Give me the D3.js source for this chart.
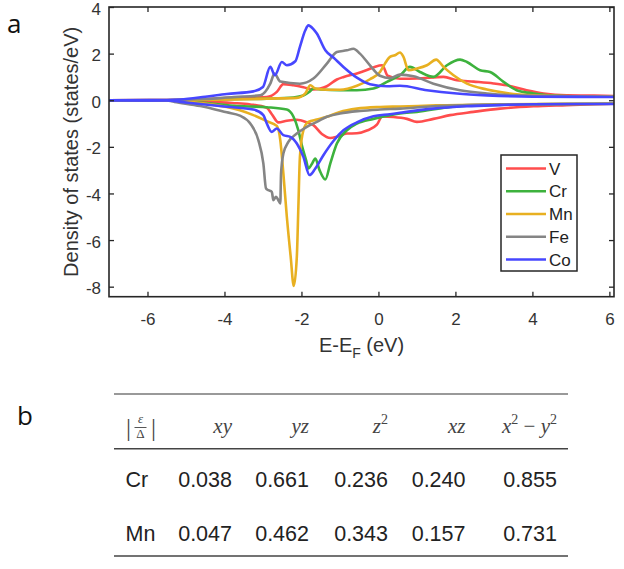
<!DOCTYPE html>
<html>
<head>
<meta charset="utf-8">
<script src="https://cdn.jsdelivr.net/npm/d3@7"></script>
<style>
  body { margin: 0; background: #fff; }
  svg { display: block; font-family: "Liberation Sans", Arial, sans-serif; }
  .tick text { fill: #333; }
</style>
</head>
<body>
<svg id="fig" width="624" height="569"></svg>
<script>
// ---- data ----
const species = ["V", "Cr", "Mn", "Fe", "Co"];
const colors = ["#ff4d4d", "#3db23d", "#e8b021", "#858585", "#4747ff"];

// [E - E_F (eV), DOS (states/eV)]
const vUp = [[-7,0],[-5.5,0.01],[-4.5,0.05],[-3.8,0.1],[-3.2,0.12],[-2.9,0.14],[-2.64,0.36],[-2.47,0.69],[-2.21,0.64],[-1.95,0.56],[-1.69,0.46],[-1.51,0.5],[-1.34,0.6],[-1.08,0.89],[-0.9,1.0],[-0.56,1.15],[-0.3,1.3],[-0.1,1.43],[0.1,1.5],[0.24,1.05],[0.56,0.92],[1.0,0.93],[1.69,1.0],[2.04,0.86],[2.47,0.8],[2.99,0.72],[3.33,0.64],[3.85,0.43],[4.29,0.29],[4.89,0.21],[5.6,0.2],[6.15,0.18]];
const vDown = [[-7,0],[-5.5,-0.01],[-4.5,-0.06],[-3.8,-0.12],[-3.33,-0.18],[-2.9,-0.33],[-2.77,-0.6],[-2.6,-0.95],[-2.38,-0.88],[-2.12,-0.84],[-1.86,-0.95],[-1.69,-1.07],[-1.47,-1.45],[-1.25,-1.62],[-1.08,-1.57],[-0.82,-1.43],[-0.56,-1.42],[-0.3,-1.3],[-0.04,-1.05],[0.1,-0.7],[0.39,-0.72],[0.74,-0.8],[1.0,-0.93],[1.43,-0.8],[1.86,-0.64],[2.47,-0.5],[3.16,-0.36],[4.03,-0.26],[4.89,-0.21],[5.6,-0.17],[6.15,-0.15]];
const crUp = [[-7,0],[-5.5,0],[-4.5,0.02],[-3.5,0.05],[-2.9,0.07],[-2.21,0.12],[-1.95,0.2],[-1.8,0.35],[-1.69,0.5],[-1.51,0.46],[-1.0,0.43],[-0.56,0.43],[-0.13,0.5],[0.22,0.79],[0.56,1.07],[0.82,1.43],[1.08,1.21],[1.43,1.0],[1.78,1.5],[2.12,1.74],[2.3,1.64],[2.64,1.29],[2.9,1.21],[3.25,0.79],[3.59,0.43],[4.03,0.29],[4.8,0.18],[6.15,0.15]];
const crDown = [[-7,0],[-5.5,-0.01],[-4.63,-0.1],[-3.77,-0.24],[-2.9,-0.3],[-2.38,-0.4],[-2.21,-0.7],[-2.08,-1.29],[-1.99,-1.93],[-1.88,-2.57],[-1.82,-2.93],[-1.73,-2.74],[-1.64,-2.5],[-1.53,-3.0],[-1.38,-3.4],[-1.25,-2.71],[-1.08,-1.86],[-0.82,-1.29],[-0.56,-1.0],[-0.13,-0.8],[0.3,-0.64],[0.56,-0.57],[1.0,-0.5],[1.86,-0.29],[2.73,-0.21],[4.0,-0.17],[6.15,-0.15]];
const mnUp = [[-7,0],[-5.5,0],[-4.5,0.02],[-3.5,0.04],[-2.9,0.07],[-2.12,0.1],[-1.9,0.29],[-1.77,0.64],[-1.64,0.5],[-1.34,0.45],[-1.0,0.45],[-0.56,0.62],[-0.22,0.9],[0.04,1.21],[0.17,1.57],[0.3,1.86],[0.43,1.93],[0.56,2.05],[0.65,1.86],[0.78,1.29],[1.0,1.36],[1.26,1.5],[1.5,1.74],[1.69,1.43],[1.95,1.07],[2.3,0.71],[2.82,0.46],[3.33,0.31],[4.03,0.21],[5.0,0.17],[6.15,0.16]];
const mnDown = [[-7,0],[-5.5,-0.01],[-5.15,-0.04],[-4.63,-0.12],[-3.94,-0.29],[-3.6,-0.43],[-3.25,-0.64],[-2.9,-0.9],[-2.64,-1.1],[-2.55,-1.71],[-2.47,-3.14],[-2.38,-5.0],[-2.28,-6.71],[-2.2,-7.97],[-2.12,-6.71],[-2.08,-4.57],[-2.04,-2.43],[-1.95,-1.29],[-1.82,-0.93],[-1.6,-0.83],[-1.34,-0.71],[-1.0,-0.5],[-0.56,-0.36],[0.04,-0.29],[0.56,-0.27],[1.5,-0.22],[3.0,-0.18],[6.15,-0.15]];
const feUp = [[-7,0],[-5.5,0.01],[-4.5,0.05],[-3.76,0.14],[-3.07,0.21],[-2.81,0.71],[-2.7,1.14],[-2.55,0.8],[-2.04,0.71],[-1.69,0.93],[-1.34,1.57],[-1.08,2.07],[-0.82,2.14],[-0.65,2.21],[-0.48,2.0],[-0.22,1.5],[0.04,1.05],[0.3,0.95],[0.56,1.1],[0.91,1.03],[1.43,0.71],[2.12,0.43],[2.82,0.29],[3.59,0.21],[4.89,0.17],[6.15,0.15]];
const feDown = [[-7,0],[-5.5,-0.01],[-5.3,-0.07],[-4.63,-0.25],[-3.94,-0.52],[-3.6,-0.66],[-3.33,-1.0],[-3.12,-1.71],[-2.99,-2.71],[-2.92,-3.79],[-2.86,-3.86],[-2.77,-3.93],[-2.73,-4.29],[-2.66,-4.14],[-2.6,-4.29],[-2.55,-4.43],[-2.53,-3.14],[-2.47,-2.29],[-2.34,-1.79],[-2.12,-1.43],[-1.86,-1.14],[-1.6,-0.93],[-1.34,-0.71],[-1.0,-0.57],[-0.48,-0.46],[0.04,-0.4],[0.56,-0.36],[1.42,-0.26],[2.3,-0.21],[4.0,-0.17],[6.15,-0.15]];
const coUp = [[-7,0],[-5.5,0.01],[-5.15,0.03],[-4.5,0.15],[-3.94,0.27],[-3.25,0.38],[-3.0,0.57],[-2.81,1.43],[-2.69,1.07],[-2.51,1.64],[-2.38,1.5],[-2.16,1.67],[-2.04,2.29],[-1.9,3.0],[-1.82,3.21],[-1.69,3.05],[-1.6,2.86],[-1.38,2.14],[-1.17,1.83],[-0.91,1.43],[-0.56,0.97],[-0.22,0.69],[0.22,0.6],[0.56,0.62],[1.26,0.43],[2.04,0.29],[2.82,0.21],[4.02,0.15],[6.15,0.14]];
const coDown = [[-7,0],[-5.5,-0.01],[-5.15,-0.07],[-4.5,-0.18],[-3.94,-0.28],[-3.25,-0.4],[-2.99,-0.64],[-2.9,-1.0],[-2.77,-1.36],[-2.64,-1.21],[-2.47,-1.5],[-2.29,-1.57],[-2.12,-1.86],[-1.95,-2.43],[-1.79,-3.21],[-1.64,-2.93],[-1.43,-2.36],[-1.17,-1.75],[-0.91,-1.29],[-0.56,-0.95],[-0.13,-0.69],[0.3,-0.6],[0.56,-0.54],[1.42,-0.36],[2.3,-0.26],[3.16,-0.21],[4.02,-0.17],[6.15,-0.16]];

const xTicks = [-6, -4, -2, 0, 2, 4, 6];
const yTicks = [-8, -6, -4, -2, 0, 2, 4];

// table b
const orbitals = ["xy", "yz", "z2", "xz", "x2-y2"];
const rowNames = ["Cr", "Mn"];
const crRatio = [0.038, 0.661, 0.236, 0.240, 0.855];
const mnRatio = [0.047, 0.462, 0.343, 0.157, 0.731];

// ---- layout ----
const svg = d3.select("#fig");
const margin = { left: 109, top: 7 };
const width = 505, height = 289.7;

const curves = [
  { name: "V", up: vUp, down: vDown },
  { name: "Cr", up: crUp, down: crDown },
  { name: "Mn", up: mnUp, down: mnDown },
  { name: "Fe", up: feUp, down: feDown },
  { name: "Co", up: coUp, down: coDown }
];
const color = d3.scaleOrdinal().domain(species).range(colors);

const x = d3.scaleLinear().domain([-7, 6.12]).range([0, width]);
const y = d3.scaleLinear().domain([-8.43, 4]).range([height, 0]);

const plot = svg.append("g")
  .attr("transform", `translate(${margin.left},${margin.top})`);

plot.append("clipPath").attr("id", "clip")
  .append("rect").attr("width", width).attr("height", height);

// data lines
const line = d3.line()
  .x(d => x(d[0]))
  .y(d => y(d[1]))
  .curve(d3.curveMonotoneX);

const lines = plot.append("g").attr("clip-path", "url(#clip)");
curves.forEach(c => {
  [c.up, c.down].forEach(s => {
    lines.append("path")
      .datum(s)
      .attr("fill", "none")
      .attr("stroke", color(c.name))
      .attr("stroke-width", 2.6)
      .attr("stroke-linejoin", "round")
      .attr("d", line);
  });
});

// axes (ticks pointing inward, on all four sides)
const fmt = d => String(d);
function styleAxis(g) {
  g.select(".domain").remove();
  g.selectAll(".tick line").attr("stroke", "#262626").attr("stroke-width", 1.3);
  g.selectAll(".tick text").attr("font-size", 17);
}
plot.append("g")
  .attr("transform", `translate(0,${height})`)
  .call(d3.axisBottom(x).tickValues(xTicks).tickFormat(fmt).tickSizeInner(-5).tickSizeOuter(0).tickPadding(16))
  .call(styleAxis);
plot.append("g")
  .call(d3.axisTop(x).tickValues(xTicks).tickFormat("").tickSizeInner(-5).tickSizeOuter(0))
  .call(styleAxis);
plot.append("g")
  .call(d3.axisLeft(y).tickValues(yTicks).tickFormat(fmt).tickSizeInner(-5).tickSizeOuter(0).tickPadding(8))
  .call(styleAxis)
  .call(g => g.selectAll(".tick text").attr("dy", "0.42em"));
plot.append("g")
  .attr("transform", `translate(${width},0)`)
  .call(d3.axisRight(y).tickValues(yTicks).tickFormat("").tickSizeInner(-5).tickSizeOuter(0))
  .call(styleAxis);
plot.selectAll(".tick text").attr("fill", "#333");

plot.append("rect")
  .attr("width", width).attr("height", height)
  .attr("fill", "none").attr("stroke", "#262626").attr("stroke-width", 1.6);

// axis titles
const xTitle = svg.append("text")
  .attr("x", margin.left + width / 2).attr("y", 352)
  .attr("text-anchor", "middle").attr("font-size", 20).attr("fill", "#333");
xTitle.append("tspan").text("E-E");
xTitle.append("tspan").attr("font-size", 14).attr("dy", 6).text("F");
xTitle.append("tspan").attr("dy", -6).text(" (eV)");

svg.append("text")
  .attr("transform", `translate(78,${margin.top + height / 2}) rotate(-90)`)
  .attr("text-anchor", "middle").attr("font-size", 20).attr("fill", "#333")
  .text("Density of states (states/eV)");

// legend
const legend = svg.append("g").attr("transform", "translate(501,155)");
legend.append("rect")
  .attr("width", 76).attr("height", 116)
  .attr("fill", "#fff").attr("stroke", "#262626").attr("stroke-width", 1.5);
const legendRow = d3.scalePoint().domain(species).range([13.5, 104.5]);
species.forEach(s => {
  const gy = legendRow(s);
  legend.append("line")
    .attr("x1", 5).attr("x2", 45).attr("y1", gy).attr("y2", gy)
    .attr("stroke", color(s)).attr("stroke-width", 2.6);
  legend.append("text")
    .attr("x", 48).attr("y", gy).attr("dy", "0.36em")
    .attr("font-size", 17).attr("fill", "#222").text(s);
});

// panel labels
svg.append("text").attr("x", 7).attr("y", 33)
  .attr("font-family", "'Open Sans', 'Noto Sans', sans-serif").attr("font-size", 26).attr("fill", "#111").text("a");
svg.append("text").attr("x", 17).attr("y", 425)
  .attr("font-family", "'Open Sans', 'Noto Sans', sans-serif").attr("font-size", 26).attr("fill", "#111").text("b");

// ---- table b ----
const table = svg.append("g");
const tLeft = 114, tRight = 568;
table.append("line").attr("x1", tLeft).attr("x2", tRight).attr("y1", 394).attr("y2", 394)
  .attr("stroke", "#999").attr("stroke-width", 2);
table.append("line").attr("x1", tLeft).attr("x2", tRight).attr("y1", 448.7).attr("y2", 448.7)
  .attr("stroke", "#444").attr("stroke-width", 1.4);
table.append("line").attr("x1", tLeft).attr("x2", tRight).attr("y1", 556).attr("y2", 556)
  .attr("stroke", "#444").attr("stroke-width", 1.4);

const colRight = d3.scaleOrdinal().domain(orbitals).range([232, 309, 388, 465.5, 557]);
const rowBase = d3.scaleOrdinal().domain(rowNames).range([486.7, 540.7]);
const mathFont = "'Liberation Serif', 'DejaVu Serif', serif";

// header |eps/Delta|
const hdrBase = 433;
table.append("text").attr("x", 126).attr("y", 436).attr("font-family", mathFont)
  .attr("font-size", 25).attr("fill", "#444").text("|");
table.append("text").attr("x", 151).attr("y", 436).attr("font-family", mathFont)
  .attr("font-size", 25).attr("fill", "#444").text("|");
table.append("text").attr("x", 140.5).attr("y", 423).attr("text-anchor", "middle")
  .attr("font-family", mathFont).attr("font-style", "italic").attr("font-size", 13).attr("fill", "#444").text("ε");
table.append("line").attr("x1", 134.5).attr("x2", 146.5).attr("y1", 427.5).attr("y2", 427.5)
  .attr("stroke", "#444").attr("stroke-width", 0.9);
table.append("text").attr("x", 140.5).attr("y", 438).attr("text-anchor", "middle")
  .attr("font-family", mathFont).attr("font-size", 13).attr("fill", "#444").text("Δ");

// orbital headers
orbitals.forEach(o => {
  const t = table.append("text")
    .attr("x", colRight(o)).attr("y", hdrBase)
    .attr("text-anchor", "end").attr("font-family", mathFont)
    .attr("font-style", "italic").attr("font-size", 21).attr("fill", "#444");
  let raised = false;
  for (const ch of o) {
    if (/[0-9]/.test(ch)) {
      t.append("tspan").attr("dy", raised ? 0 : -9).attr("font-size", 14).attr("font-style", "normal").text(ch);
      raised = true;
    } else {
      const sp = t.append("tspan").attr("dy", raised ? 9 : 0);
      raised = false;
      if (ch === "-") sp.attr("font-style", "normal").text(" \u2212 ");
      else sp.text(ch);
    }
  }
});

// rows
const valFmt = d3.format(".3f");
[crRatio, mnRatio].forEach((vals, i) => {
  const r = rowNames[i];
  table.append("text").attr("x", 125.5).attr("y", rowBase(r))
    .attr("font-size", 21.5).attr("fill", "#222").text(r);
  vals.forEach((v, j) => {
    table.append("text").attr("x", colRight(orbitals[j])).attr("y", rowBase(r))
      .attr("text-anchor", "end").attr("font-size", 21.5).attr("fill", "#222").text(valFmt(v));
  });
});
</script>
</body>
</html>
